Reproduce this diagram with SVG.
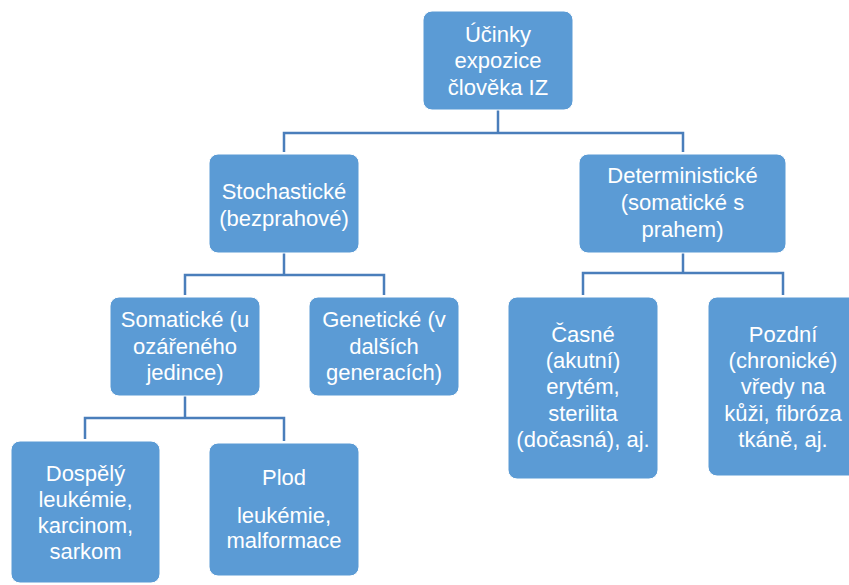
<svg xmlns="http://www.w3.org/2000/svg" width="849" height="585" viewBox="0 0 849 585">
<style>
.box{fill:#5B9BD5;stroke:#FFFFFF;stroke-width:1}
.lbl{font-family:"Liberation Sans",Arial,sans-serif;font-size:22px;fill:#FFFFFF;text-anchor:middle}
.conn{fill:none;stroke:#4A7EBB;stroke-width:2.5}
</style>
<rect width="849" height="585" fill="#FFFFFF"/>
<g id="connectors">
<path class="conn" d="M498 110 V133"/>
<path class="conn" d="M284 152 V133 H683 V152"/>
<path class="conn" d="M284 253 V275"/>
<path class="conn" d="M185 295 V275 H384 V295"/>
<path class="conn" d="M683 253 V273"/>
<path class="conn" d="M583 295 V273 H783 V295"/>
<path class="conn" d="M185 396 V418"/>
<path class="conn" d="M85 439 V418 H284 V441"/>
</g>
<g id="root">
<rect class="box" x="423" y="11" width="150" height="99" rx="9"/>
<text class="lbl"><tspan x="498" y="41.5">Účinky</tspan><tspan x="498" y="68">expozice</tspan><tspan x="498" y="94.5">člověka IZ</tspan></text>
</g>
<g id="stochasticke">
<rect class="box" x="209" y="154" width="150" height="99" rx="9"/>
<text class="lbl"><tspan x="284" y="199">Stochastické</tspan><tspan x="284" y="226">(bezprahové)</tspan></text>
</g>
<g id="deterministicke">
<rect class="box" x="579" y="154" width="207" height="99" rx="9"/>
<text class="lbl"><tspan x="682.5" y="183">Deterministické</tspan><tspan x="682.5" y="210">(somatické s</tspan><tspan x="682.5" y="237">prahem)</tspan></text>
</g>
<g id="somaticke">
<rect class="box" x="110" y="297" width="150" height="99" rx="9"/>
<text class="lbl"><tspan x="185" y="327">Somatické (u</tspan><tspan x="185" y="354">ozářeného</tspan><tspan x="185" y="380">jedince)</tspan></text>
</g>
<g id="geneticke">
<rect class="box" x="309" y="297" width="150" height="99" rx="9"/>
<text class="lbl"><tspan x="384" y="327">Genetické (v</tspan><tspan x="384" y="354">dalších</tspan><tspan x="384" y="380">generacích)</tspan></text>
</g>
<g id="dospely">
<rect class="box" x="11" y="441" width="149" height="142" rx="9"/>
<text class="lbl"><tspan x="85.5" y="481">Dospělý</tspan><tspan x="85.5" y="507">leukémie,</tspan><tspan x="85.5" y="533">karcinom,</tspan><tspan x="85.5" y="559">sarkom</tspan></text>
</g>
<g id="plod">
<rect class="box" x="209" y="443" width="150" height="133" rx="9"/>
<text class="lbl"><tspan x="284" y="485">Plod</tspan><tspan x="284" y="523">leukémie,</tspan><tspan x="284" y="548">malformace</tspan></text>
</g>
<g id="casne">
<rect class="box" x="508" y="297" width="150" height="182" rx="9"/>
<text class="lbl"><tspan x="583" y="342">Časné</tspan><tspan x="583" y="368">(akutní)</tspan><tspan x="583" y="394">erytém,</tspan><tspan x="583" y="421">sterilita</tspan><tspan x="583" y="447">(dočasná), aj.</tspan></text>
</g>
<g id="pozdni">
<rect class="box" x="708" y="297" width="150" height="179" rx="9"/>
<text class="lbl"><tspan x="783" y="342">Pozdní</tspan><tspan x="783" y="368">(chronické)</tspan><tspan x="783" y="394">vředy na</tspan><tspan x="783" y="421">kůži, fibróza</tspan><tspan x="783" y="447">tkáně, aj.</tspan></text>
</g>
</svg>
